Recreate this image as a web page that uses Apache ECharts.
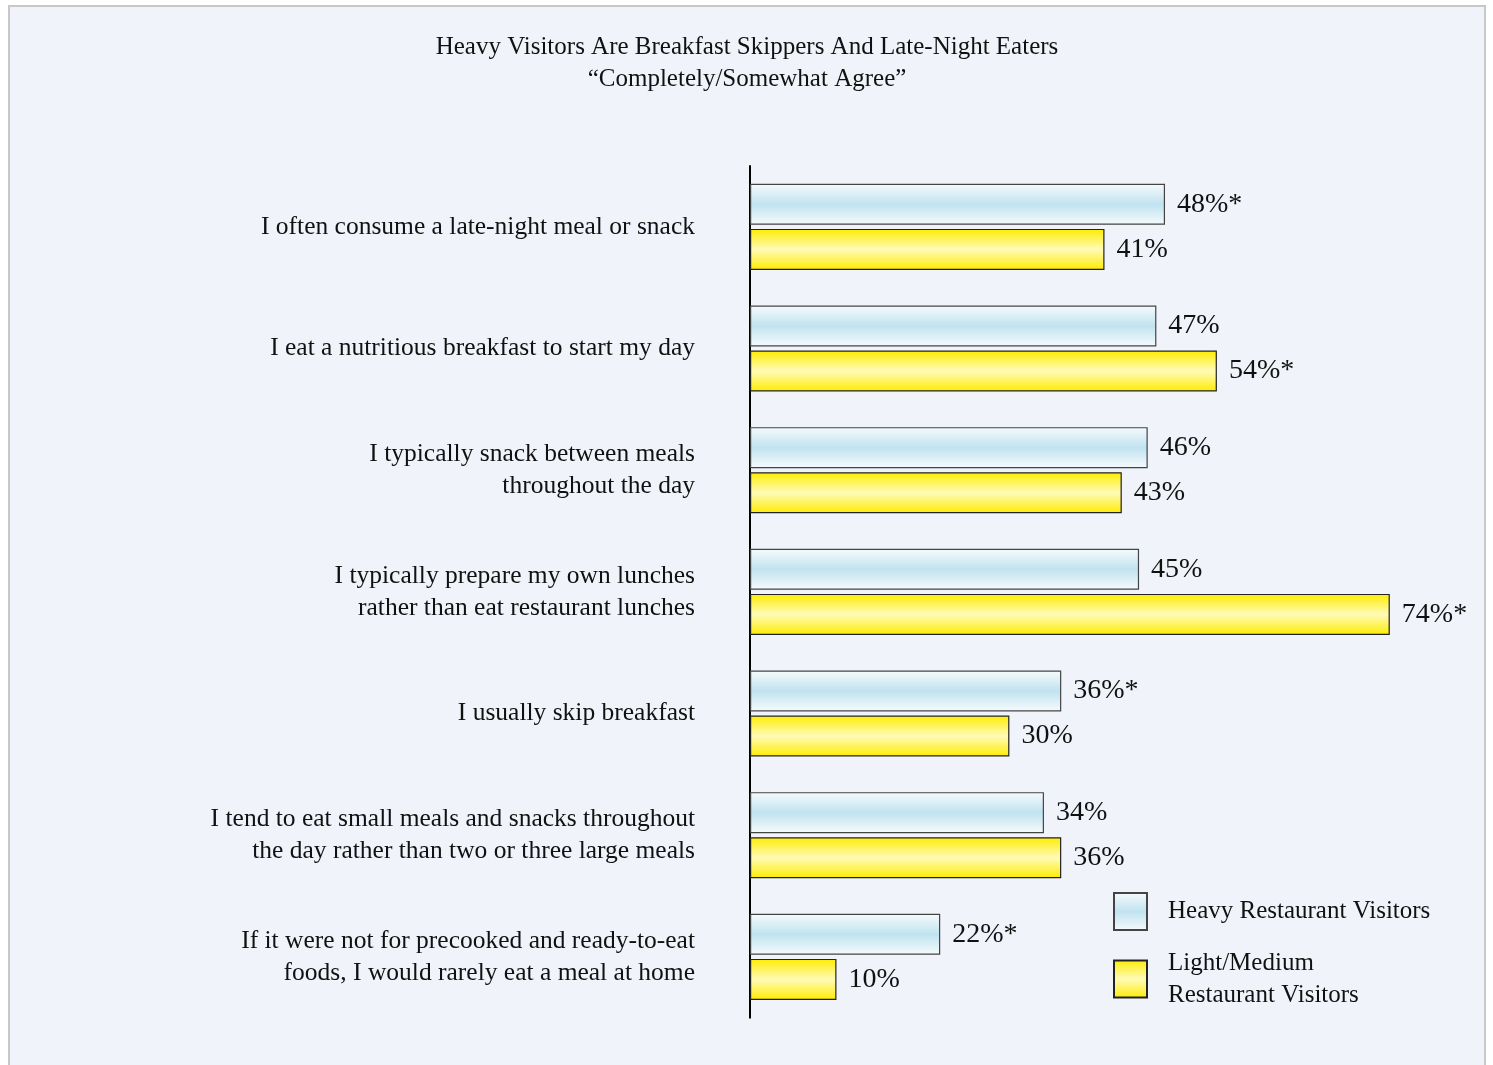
<!DOCTYPE html>
<html>
<head>
<meta charset="utf-8">
<script src="https://cdn.jsdelivr.net/npm/echarts@6/dist/echarts.min.js"></script>
<style>
  html, body { margin: 0; padding: 0; background: #ffffff; }
  #frame {
    position: absolute; left: 8px; top: 5px;
    width: 1478px; height: 1075px;
    box-sizing: border-box;
    border: 2px solid #c8c8c8;
    background: #f0f4fa;
  }
  #chart { width: 1474px; height: 1071px; }
</style>
</head>
<body>
<div id="frame"><div id="chart"></div></div>
<script>
const categories = [
  'I often consume a late-night meal or snack',
  'I eat a nutritious breakfast to start my day',
  'I typically snack between meals\nthroughout the day',
  'I typically prepare my own lunches\nrather than eat restaurant lunches',
  'I usually skip breakfast',
  'I tend to eat small meals and snacks throughout\nthe day rather than two or three large meals',
  'If it were not for precooked and ready-to-eat\nfoods, I would rarely eat a meal at home'
]
const heavyValues = [48, 47, 46, 45, 36, 34, 22]
const lightValues = [41, 54, 43, 74, 30, 36, 10]
// significance markers (*)
const heavySig = [true, false, false, false, true, false, true]
const lightSig = [false, true, false, true, false, false, false]

const chart = echarts.init(document.getElementById('chart'))

const serif = '"Liberation Serif", "DejaVu Serif", serif'

const blueFill = new echarts.graphic.LinearGradient(0, 0, 0, 1, [
  { offset: 0, color: '#f6fbfd' },
  { offset: 0.5, color: '#c0e3ef' },
  { offset: 1, color: '#f6fbfd' }
])
const yellowFill = new echarts.graphic.LinearGradient(0, 0, 0, 1, [
  { offset: 0, color: '#ffec00' },
  { offset: 0.5, color: '#fffbb8' },
  { offset: 1, color: '#ffec00' }
])

const valueLabel = (sig) => ({
  show: true,
  position: 'right',
  distance: 12,
  color: '#111',
  fontFamily: serif,
  fontSize: 28,
  formatter: (p) => p.value + '%' + (sig[p.dataIndex] ? '*' : '')
})

const option = {
  backgroundColor: 'transparent',
  animation: false,
  title: {
    text: 'Heavy Visitors Are Breakfast Skippers And Late-Night Eaters\n\u201CCompletely/Somewhat Agree\u201D',
    left: 'center',
    top: 19,
    textStyle: {
      fontFamily: serif,
      fontWeight: 'normal',
      fontSize: 25,
      lineHeight: 32,
      color: '#111'
    }
  },
  legend: {
    orient: 'vertical',
    left: 1098,
    top: 880,
    itemWidth: 33,
    itemHeight: 37,
    itemGap: 16,
    icon: 'rect',
    textStyle: {
      fontFamily: serif,
      fontSize: 25,
      lineHeight: 32,
      color: '#111',
      padding: [0, 0, 0, 16]
    },
    data: ['Heavy Restaurant Visitors', 'Light/Medium\nRestaurant Visitors']
  },
  grid: {
    left: 740,
    top: 159,
    width: 80 * 8.646,
    height: 7 * 121.67
  },
  xAxis: {
    type: 'value',
    min: 0,
    max: 80,
    show: false
  },
  yAxis: {
    type: 'category',
    inverse: true,
    data: categories,
    axisLine: { show: true, lineStyle: { color: '#000', width: 2 } },
    axisTick: { show: false },
    axisLabel: {
      margin: 55,
      fontFamily: serif,
      fontSize: 25.5,
      lineHeight: 32,
      color: '#111',
      align: 'right'
    }
  },
  series: [
    {
      name: 'Heavy Restaurant Visitors',
      type: 'bar',
      data: heavyValues,
      barWidth: 41,
      barGap: '10%',
      itemStyle: { color: blueFill, borderColor: '#444', borderWidth: 1.2 },
      label: valueLabel(heavySig)
    },
    {
      name: 'Light/Medium\nRestaurant Visitors',
      type: 'bar',
      data: lightValues,
      barWidth: 41,
      barGap: '10%',
      itemStyle: { color: yellowFill, borderColor: '#222', borderWidth: 1.2 },
      label: valueLabel(lightSig)
    }
  ]
}

chart.setOption(option)
window.addEventListener('resize', () => chart.resize())
</script>
</body>
</html>
